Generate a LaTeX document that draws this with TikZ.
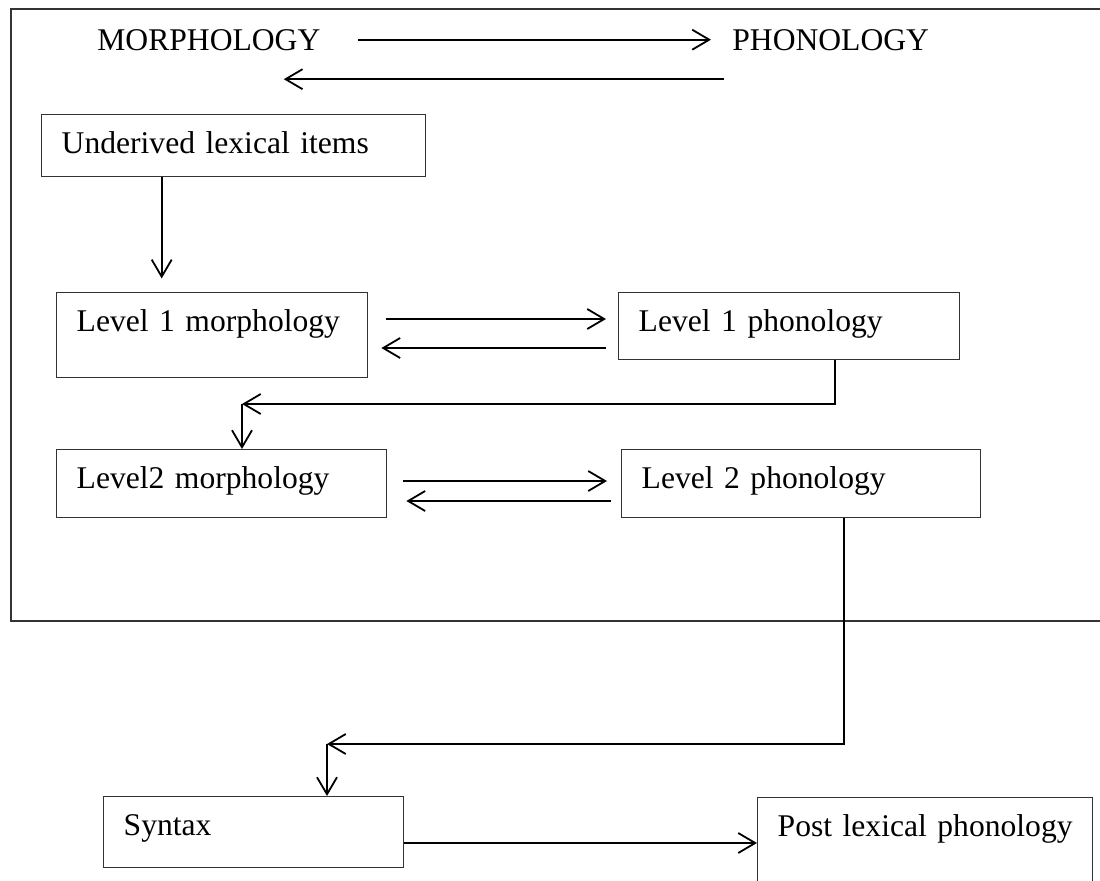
\documentclass[tikz,border=0pt]{standalone}
\usepackage{fontspec}
\setmainfont{Liberation Serif}
\usepackage{tikz}
\usetikzlibrary{arrows.meta, positioning, calc}
\tikzset{
  lexbox/.style={
    draw=black!80,
    line width=0.7pt,
    anchor=north west,
    align=left,
    inner xsep=10pt,
    inner ysep=0pt,
    text height=19.5pt
  },
  tag/.style={anchor=base west, inner sep=0pt},
  arrow/.style={-{Straight Barb[length=8.5pt,width=10pt]}, line width=0.9pt}
}

\begin{document}
\begin{tikzpicture}[
    x=0.5pt, y=-0.5pt,
    font=\fontsize{15.8}{19}\selectfont
]
\useasboundingbox (0,0) rectangle (1100,880);

% frame of the lexicon
\draw[line width=0.8pt, draw=black!80] (1100,9) -- (11,9) -- (11,621) -- (1100,621);

\node[tag] (morph) at (97,50) {MORPHOLOGY};
\node[tag] (phon) at (732,50) {PHONOLOGY};

\node[lexbox, text width=172pt, text depth=11.5pt] (ulex) at (41,114)
{Underived lexical items};

\node[lexbox, text width=135.5pt, text depth=23pt] (m1) at (56,292)
{Level 1 morphology};

\node[lexbox, text width=150.5pt, text depth=14pt] (p1) at (618,292)
{Level 1 phonology};

\node[lexbox, text width=145pt, text depth=14.5pt] (m2) at (56,449)
{Level2 morphology};

\node[lexbox, text width=159.5pt, text depth=14.5pt] (p2) at (621,449)
{Level 2 phonology};

\node[lexbox, text width=130pt, text depth=16pt] (syn) at (103,796)
{Syntax};

\node[lexbox, text width=147.5pt, text depth=30.5pt] (post) at (757,797)
{Post lexical phonology};

\coordinate (k1) at (242,404);
\coordinate (k2) at (327,744);

\draw[arrow] ([shift={(37,0)}]morph.east) -- ([shift={(-21,0)}]phon.west);
\draw[arrow] ([shift={(-8,39.5)}]phon.west) -- ([shift={(-37,39.5)}]morph.east);
\draw[arrow] ([shift={(-72,0)}]ulex.south) -- ++(0,101);
\draw[arrow] ([shift={(18,27)}]m1.north east) -- ([shift={(-12,27)}]p1.north west);
\draw[arrow] ([shift={(-12,56)}]p1.north west) -- ([shift={(13,56)}]m1.north east);
\draw[arrow] ([shift={(45.5,0)}]p1.south) |- (k1);
\draw[arrow] (k1) -- (k1 |- m2.north);
\draw[arrow] ([shift={(16,32)}]m2.north east) -- ([shift={(-14,32)}]p2.north west);
\draw[arrow] ([shift={(-10,52)}]p2.north west) -- ([shift={(19,52)}]m2.north east);
\draw[arrow] ([shift={(42.5,0)}]p2.south) |- (k2);
\draw[arrow] (k2) -- (k2 |- syn.north);
\draw[arrow] ([shift={(0,47)}]syn.north east) -- ([shift={(0,46)}]post.north west);
\end{tikzpicture}
\end{document}
